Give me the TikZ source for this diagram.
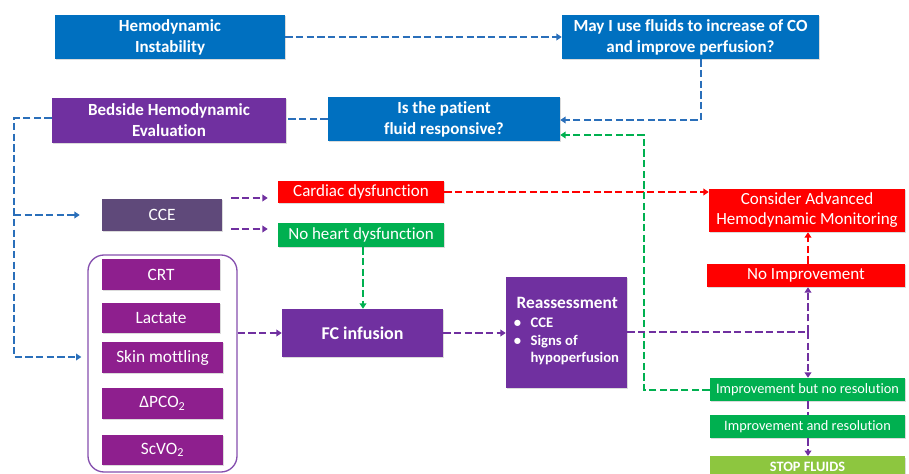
\documentclass[tikz,border=0pt]{standalone}
\usepackage{fontspec}
\setmainfont{Carlito}[Ligatures=NoCommon]
\usetikzlibrary{arrows.meta,shadows,calc}
\definecolor{cblue}{HTML}{0070C0}
\definecolor{lblue}{HTML}{2A6FBA}
\definecolor{cpurple}{HTML}{7030A0}
\definecolor{ccce}{HTML}{5F497A}
\definecolor{cmag}{HTML}{8E1F8E}
\definecolor{cred}{HTML}{FF0000}
\definecolor{cgreen}{HTML}{00B050}
\definecolor{clgreen}{HTML}{8DC63F}
\tikzset{
  box/.style={draw=none, text=white, align=center, inner sep=1pt,
    font=\fontsize{12.75}{15}\selectfont,
    drop shadow={shadow xshift=1pt, shadow yshift=-1pt, fill=black!20, opacity=0.7}},
  bbox/.style={box, font=\fontsize{12.75}{15.75}\selectfont\bfseries},
  lbox/.style={box, font=\fontsize{13}{15}\selectfont},
  sbox/.style={box, font=\fontsize{10.75}{12}\selectfont},
  conn/.style={dash pattern=on 5.5pt off 2.5pt, line width=1.5pt},
  arr/.style={conn, -{Triangle[length=4pt,width=5pt]}},
}
\begin{document}
\begin{tikzpicture}[x=0.75pt,y=-0.75pt]
\useasboundingbox (0,0) rectangle (909,474);
\clip (0,0) rectangle (909,474);
% top row
\node[bbox,fill=cblue,minimum width=172.5pt,minimum height=33pt] (hi) at (170,37) {Hemodynamic\\Instability};
\node[bbox,fill=cblue,minimum width=192.75pt,minimum height=33pt] (may) at (690.5,37) {May I use fluids to increase of CO\\and improve perfusion?};
\node[bbox,fill=cpurple,minimum width=175.5pt,minimum height=33.75pt] (bed) at (169,120.5) {Bedside Hemodynamic\\Evaluation};
\node[bbox,fill=cblue,minimum width=174pt,minimum height=33pt] (isp) at (444,119) {Is the patient\\fluid responsive?};
% middle
\node[lbox,fill=ccce,minimum width=90pt,minimum height=24pt] (cce) at (162,215) {CCE};
\node[box,fill=cred,minimum width=124.5pt,minimum height=16.5pt] (card) at (361,192) {Cardiac dysfunction};
\node[box,fill=cgreen,minimum width=124.5pt,minimum height=18pt] (noh) at (361,235) {No heart dysfunction};
\node[box,fill=cred,minimum width=147pt,minimum height=32.25pt] (cons) at (807,210.5) {Consider Advanced\\Hemodynamic Monitoring};
\node[box,fill=cred,minimum width=148.5pt,minimum height=17.25pt] (noimp) at (806,275.5) {No Improvement};
% group of signs
\node[draw=cpurple!85,line width=1pt,rounded corners=12pt,minimum width=111.75pt,minimum height=162.75pt] (grp) at (162.5,363.5) {};
\node[lbox,fill=cmag,minimum width=88.5pt,minimum height=23.25pt] (crt) at (161,274.5) {CRT};
\node[lbox,fill=cmag,minimum width=88.5pt,minimum height=22.5pt] (lac) at (161,318) {Lactate};
\node[lbox,fill=cmag,minimum width=90.75pt,minimum height=23.25pt] (skin) at (162.5,357.5) {Skin mottling};
\node[lbox,fill=cmag,minimum width=90.75pt,minimum height=23.25pt] (pco) at (162.5,403.5) {ΔPCO\textsubscript{2}};
\node[lbox,fill=cmag,minimum width=90.75pt,minimum height=22.5pt] (scv) at (162.5,450) {ScVO\textsubscript{2}};
% lower middle
\node[bbox,fill=cpurple,minimum width=120.75pt,minimum height=36pt,font=\fontsize{13.5}{15}\selectfont\bfseries] (fc) at (362.5,333) {FC infusion};
\node[bbox,fill=cpurple,minimum width=90.75pt,minimum height=83.25pt,font=\fontsize{11}{13.25}\selectfont\bfseries] (rea) at (566.5,332) {%
  \begin{tabular}{@{}l@{\hspace{7pt}}l@{}}
  \multicolumn{2}{@{\hspace{2pt}}l@{}}{\fontsize{13}{15}\selectfont Reassessment}\\[1pt]
  \textbullet & CCE\\
  \textbullet & Signs of\\
   & hypoperfusion
  \end{tabular}};
\node[sbox,fill=cgreen,minimum width=146.25pt,minimum height=17.25pt] (ibn) at (807.5,389.5) {Improvement but no resolution};
\node[sbox,fill=cgreen,minimum width=146.25pt,minimum height=17.25pt] (iar) at (807.5,426.5) {Improvement and resolution};
\node[sbox,fill=clgreen,minimum width=146.25pt,minimum height=16.5pt,anchor=north,font=\fontsize{10.75}{12}\selectfont\bfseries] (stop) at (807.5,456) {STOP FLUIDS};
% coordinates
\coordinate (m1) at (701,120);
\coordinate (lc) at (14,357);
\coordinate (j) at (808,332);
\coordinate (g) at (644,135);
% blue connectors
\draw[arr,lblue] (hi.east) -- (may.west);
\draw[arr,lblue] (may.south -| m1) |- (isp.east |- m1);
\draw[conn,lblue] (isp.west) -- (isp.west -| bed.east);
\draw[arr,lblue,shorten >=4.5pt] (bed.west |- 0,118) -| (lc) -- (lc -| grp.west);
\draw[arr,lblue,shorten >=16.5pt] (lc |- cce.west) -- (cce.west);
% purple from CCE
\draw[arr,cpurple,shorten <=6.75pt,shorten >=7.5pt] (cce.east |- 0,198) -- (card.west |- 0,198);
\draw[arr,cpurple,shorten <=6.75pt,shorten >=7.5pt] (cce.east |- 0,229) -- (noh.west |- 0,229);
% red
\draw[arr,cred] (card.east) -- (card.east -| cons.west);
\draw[arr,cred] (noimp.north -| j) -- (cons.south -| j);
% green
\draw[arr,cgreen] (noh.south -| 363,0) -- (fc.north -| 363,0);
\draw[arr,cgreen] (ibn.west) -| (g) -- (g -| isp.east);
% purple flow
\draw[arr,cpurple] (grp.east |- fc.west) -- (fc.west);
\draw[arr,cpurple] (fc.east) -- (fc.east -| rea.west);
\draw[conn,cpurple] (rea.east |- j) -- (j);
\draw[arr,cpurple] (j) -- (noimp.south -| j);
\draw[arr,cpurple] (j) -- (ibn.north -| j);
\draw[conn,cpurple] (ibn.south -| j) -- (iar.north -| j);
\draw[arr,cpurple] (iar.south -| j) -- (stop.north -| j);
\end{tikzpicture}
\end{document}
